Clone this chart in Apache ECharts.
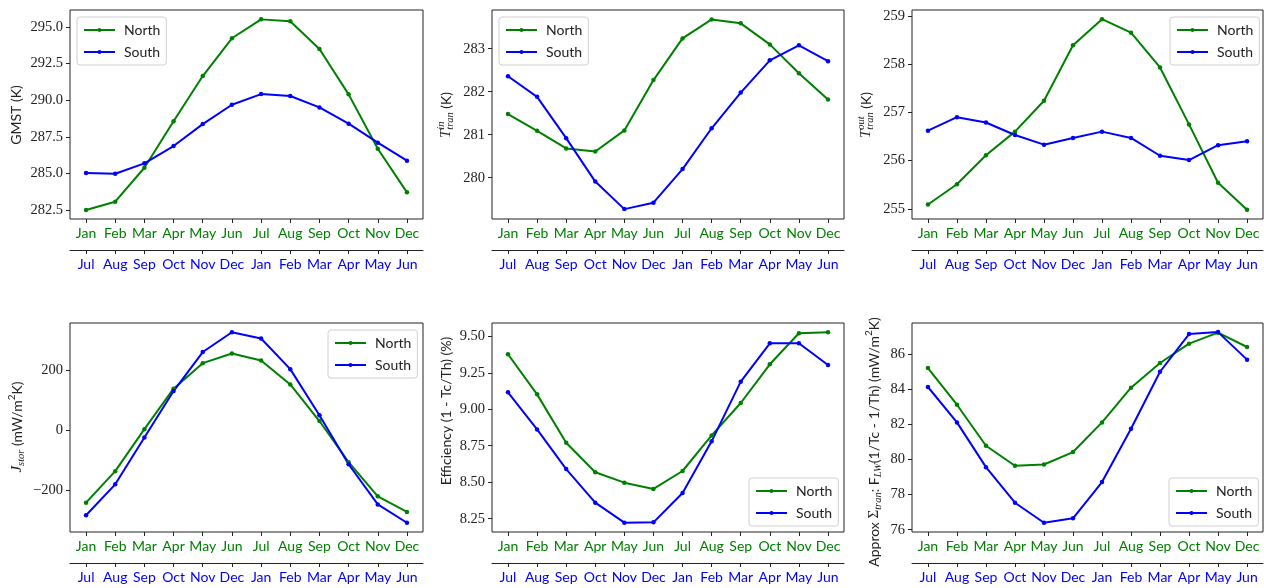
<!DOCTYPE html>
<html>
<head>
<meta charset="utf-8">
<script src="https://cdn.jsdelivr.net/npm/echarts@6/dist/echarts.min.js"></script>
<style>
html,body{margin:0;padding:0;background:#fff;}
#chart{width:1264px;height:588px;}
</style>
</head>
<body>
<div id="chart"></div>
<script>
// ---------- data ----------
const northMonths = ['Jan','Feb','Mar','Apr','May','Jun','Jul','Aug','Sep','Oct','Nov','Dec'];
const southMonths = ['Jul','Aug','Sep','Oct','Nov','Dec','Jan','Feb','Mar','Apr','May','Jun'];

const gmstNorth = [282.50,283.07,285.39,288.56,291.65,294.23,295.52,295.39,293.50,290.40,286.69,283.71];
const gmstSouth = [285.03,284.98,285.69,286.87,288.37,289.69,290.42,290.29,289.51,288.40,287.10,285.87];

const tinNorth = [281.48,281.09,280.68,280.61,281.10,282.27,283.24,283.68,283.59,283.10,282.43,281.82];
const tinSouth = [282.36,281.88,280.92,279.91,279.27,279.42,280.20,281.15,281.98,282.73,283.08,282.71];

const toutNorth = [255.09,255.51,256.11,256.60,257.24,258.39,258.93,258.65,257.93,256.75,255.54,254.98];
const toutSouth = [256.62,256.90,256.79,256.53,256.33,256.47,256.60,256.47,256.10,256.01,256.32,256.40];

const jstorNorth = [-241,-136,4,139,224,256,233,153,31,-106,-220,-272];
const jstorSouth = [-283,-180,-24,131,261,327,306,204,50,-113,-247,-308];

const effNorth = [9.377,9.102,8.771,8.568,8.497,8.454,8.577,8.821,9.043,9.308,9.521,9.527];
const effSouth = [9.116,8.862,8.590,8.360,8.223,8.225,8.426,8.780,9.189,9.452,9.452,9.303];

const sigNorth = [85.22,83.13,80.79,79.65,79.72,80.43,82.12,84.10,85.51,86.61,87.24,86.42];
const sigSouth = [84.14,82.12,79.57,77.54,76.40,76.65,78.72,81.76,85.01,87.16,87.27,85.70];

const ticks1 = [282.5,285.0,287.5,290.0,292.5,295.0];
const ticks2 = [280,281,282,283];
const ticks3 = [255,256,257,258,259];
const ticks4 = [-200,0,200];
const ticks5 = [8.25,8.50,8.75,9.00,9.25,9.50];
const ticks6 = [76,78,80,82,84,86];

// ---------- layout / style ----------
const SANS = 'Lato, "Open Sans", sans-serif';
const SERIF = '"Liberation Serif", "DejaVu Serif", serif';
const GREEN = '#008000', BLUE = '#0000ff', INK = '#222';

const panels = [
  {grid:{left:70, top:10, width:353, height:209}, yr:[281.89,296.16], ticks:ticks1, dec:1, n:gmstNorth, s:gmstSouth, leg:{left:77, top:17}},
  {grid:{left:492, top:10, width:352, height:209}, yr:[279.04,283.90], ticks:ticks2, dec:0, n:tinNorth, s:tinSouth, leg:{left:499, top:17}},
  {grid:{left:912, top:10, width:351, height:209}, yr:[254.79,259.12], ticks:ticks3, dec:0, n:toutNorth, s:toutSouth, leg:{left:1170, top:17}},
  {grid:{left:70, top:323, width:353, height:209}, yr:[-338.9,357.8], ticks:ticks4, dec:0, n:jstorNorth, s:jstorSouth, leg:{left:328, top:330}},
  {grid:{left:492, top:323, width:352, height:209}, yr:[8.159,9.591], ticks:ticks5, dec:2, n:effNorth, s:effSouth, leg:{left:749, top:478}},
  {grid:{left:912, top:323, width:351, height:209}, yr:[75.87,87.79], ticks:ticks6, dec:0, n:sigNorth, s:sigSouth, leg:{left:1169, top:478}}
];

const idx = northMonths.map((_, i) => i);

const grids = [], xAxes = [], yAxes = [], series = [], legends = [];
panels.forEach((p, k) => {
  grids.push(Object.assign({show:true, borderColor:INK, borderWidth:1, backgroundColor:'transparent'}, p.grid));
  const baseX = {
    type:'value', gridIndex:k, min:-0.55, max:11.55, splitLine:{show:false},
    axisTick:{show:true, customValues:idx, length:4, lineStyle:{color:INK}}
  };
  xAxes.push(Object.assign({}, baseX, {
    position:'bottom', axisLine:{show:false, onZero:false},
    axisLabel:{customValues:idx, formatter:v => northMonths[Math.round(v)], color:GREEN, fontFamily:SANS, fontSize:14, margin:7}
  }));
  xAxes.push(Object.assign({}, baseX, {
    position:'bottom', offset:31, axisLine:{show:true, onZero:false, lineStyle:{color:INK, width:1}},
    axisLabel:{customValues:idx, formatter:v => southMonths[Math.round(v)], color:BLUE, fontFamily:SANS, fontSize:14, margin:7}
  }));
  yAxes.push({
    type:'value', gridIndex:k, min:p.yr[0], max:p.yr[1], splitLine:{show:false},
    position:'left', axisLine:{show:false, onZero:false},
    axisTick:{show:true, customValues:p.ticks, length:4, lineStyle:{color:INK}},
    axisLabel:{customValues:p.ticks, formatter:v => v.toFixed(p.dec).replace('-', '\u2212'),
      color:INK, fontFamily:SERIF, fontSize:14.5, margin:7}
  });
  [['North', p.n, GREEN], ['South', p.s, BLUE]].forEach(([name, arr, col]) => {
    series.push({
      type:'line', name:name, xAxisIndex:2*k, yAxisIndex:k,
      data:arr.map((v, i) => [i, v]), color:col,
      symbol:'circle', symbolSize:4.5, showSymbol:true,
      lineStyle:{width:2, color:col}, itemStyle:{color:col}, animation:false
    });
  });
  legends.push({
    left:p.leg.left, top:p.leg.top, orient:'vertical', data:['North','South'],
    padding:[5,6,5,6], itemGap:6, itemWidth:31, itemHeight:5,
    backgroundColor:'rgba(255,255,255,0.85)', borderColor:'#d0d0d0', borderWidth:1, borderRadius:3,
    textStyle:{fontFamily:SANS, fontSize:14, color:INK, lineHeight:16, padding:[0,0,0,4]}
  });
});

// ---------- rotated y-axis titles ----------
const mctx = document.createElement('canvas').getContext('2d');
function tw(text, font){ mctx.font = font; return mctx.measureText(text).width; }
function ylabel(cx, cy, parts){
  const widths = parts.map(p => p.stack ? p.stack.map(q => tw(q.t, q.f)).reduce((a,b)=>Math.max(a,b),0) : tw(p.t, p.f));
  const W = widths.reduce((a,b)=>a+b,0);
  let x = -W/2; const children = [];
  parts.forEach((p, i) => {
    const segs = p.stack ? p.stack : [p];
    segs.forEach(q => children.push({type:'text', x:x, y:(q.dy||0),
      style:{text:q.t, font:q.f, fill:INK, align:'left', verticalAlign:'middle'}}));
    x += widths[i];
  });
  return {type:'group', x:cx, y:cy, rotation:Math.PI/2, children:children, silent:true};
}
const fS = '14px ' + SANS, fSm = '10px ' + SANS;
const fI = 'italic 15px ' + SERIF, fIs = 'italic 10.5px ' + SERIF, fR = '15px ' + SERIF;
const graphics = [
  ylabel(16, 115, [{t:'GMST (K)', f:fS}]),
  ylabel(446, 115, [{t:'T', f:fI}, {stack:[{t:'in', f:fIs, dy:-5}, {t:'tran', f:fIs, dy:4}]}, {t:' (K)', f:fS}]),
  ylabel(866, 115, [{t:'T', f:fI}, {stack:[{t:'out', f:fIs, dy:-5}, {t:'tran', f:fIs, dy:4}]}, {t:' (K)', f:fS}]),
  ylabel(17, 427, [{t:'J', f:fI}, {t:'stor', f:fIs, dy:4}, {t:' (mW/m', f:fS}, {t:'2', f:fSm, dy:-5}, {t:'K)', f:fS}]),
  ylabel(446, 411, [{t:'Efficiency (1 - Tc/Th) (%)', f:fS}]),
  ylabel(874, 442, [{t:'Approx ', f:fS}, {t:'\u03A3', f:fR}, {t:'tran', f:fIs, dy:4}, {t:': F', f:fS}, {t:'LW', f:fIs, dy:4},
                    {t:'(1/Tc - 1/Th) (mW/m', f:fS}, {t:'2', f:fSm, dy:-5}, {t:'K)', f:fS}])
];

const chart = echarts.init(document.getElementById('chart'), null, {renderer:'canvas'});
chart.setOption({
  animation:false, backgroundColor:'#fff',
  grid:grids, xAxis:xAxes, yAxis:yAxes, series:series, legend:legends, graphic:graphics
});
</script>
</body>
</html>
